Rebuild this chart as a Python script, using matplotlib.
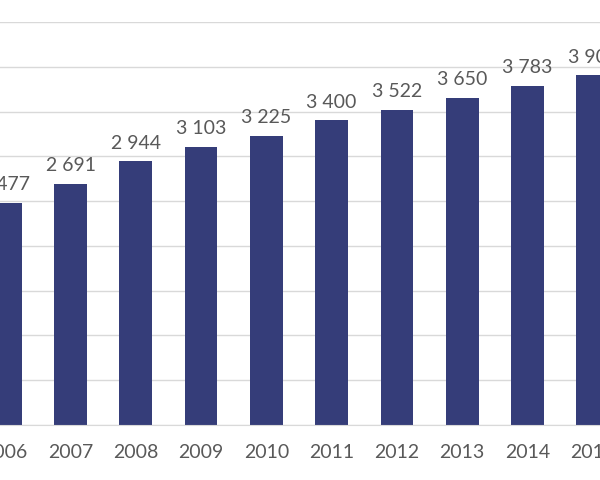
import matplotlib.pyplot as plt

# DATA
years = [2006, 2007, 2008, 2009, 2010, 2011, 2012, 2013, 2014, 2015]
values = [2477, 2691, 2944, 3103, 3225, 3400, 3522, 3650, 3783, 3904]
labels = ['2 477', '2 691', '2 944', '3 103', '3 225',
          '3 400', '3 522', '3 650', '3 783', '3 904']

plt.rcParams['font.family'] = ['Lato', 'DejaVu Sans']

fig = plt.figure(figsize=(6, 4.8), dpi=100)
ax = fig.add_axes([0, 0.1146, 1, 0.8396])

bar_color = '#353d79'
grey = '#595959'

ax.bar(years, values, width=0.5, color=bar_color, zorder=3)

for x, v, t in zip(years, values, labels):
    ax.annotate(t, (x, v), xytext=(0, 7), textcoords='offset points',
                ha='center', va='bottom', fontsize=14, color=grey)

ax.set_xlim(2005.92, 2015.11)
ax.set_ylim(0, 4500)
ax.set_yticks(range(0, 4501, 500))
ax.set_xticks(years)
ax.set_xticklabels([str(y) for y in years], fontsize=14, color=grey)
ax.tick_params(axis='x', length=0, pad=14)
ax.tick_params(axis='y', length=0, labelleft=False)
ax.grid(axis='y', color='#d9d9d9', linewidth=1, zorder=0)

for s in ['top', 'right', 'left']:
    ax.spines[s].set_visible(False)
ax.spines['bottom'].set_color('#d9d9d9')
ax.spines['bottom'].set_zorder(4)

plt.savefig('out.png', dpi=100)
